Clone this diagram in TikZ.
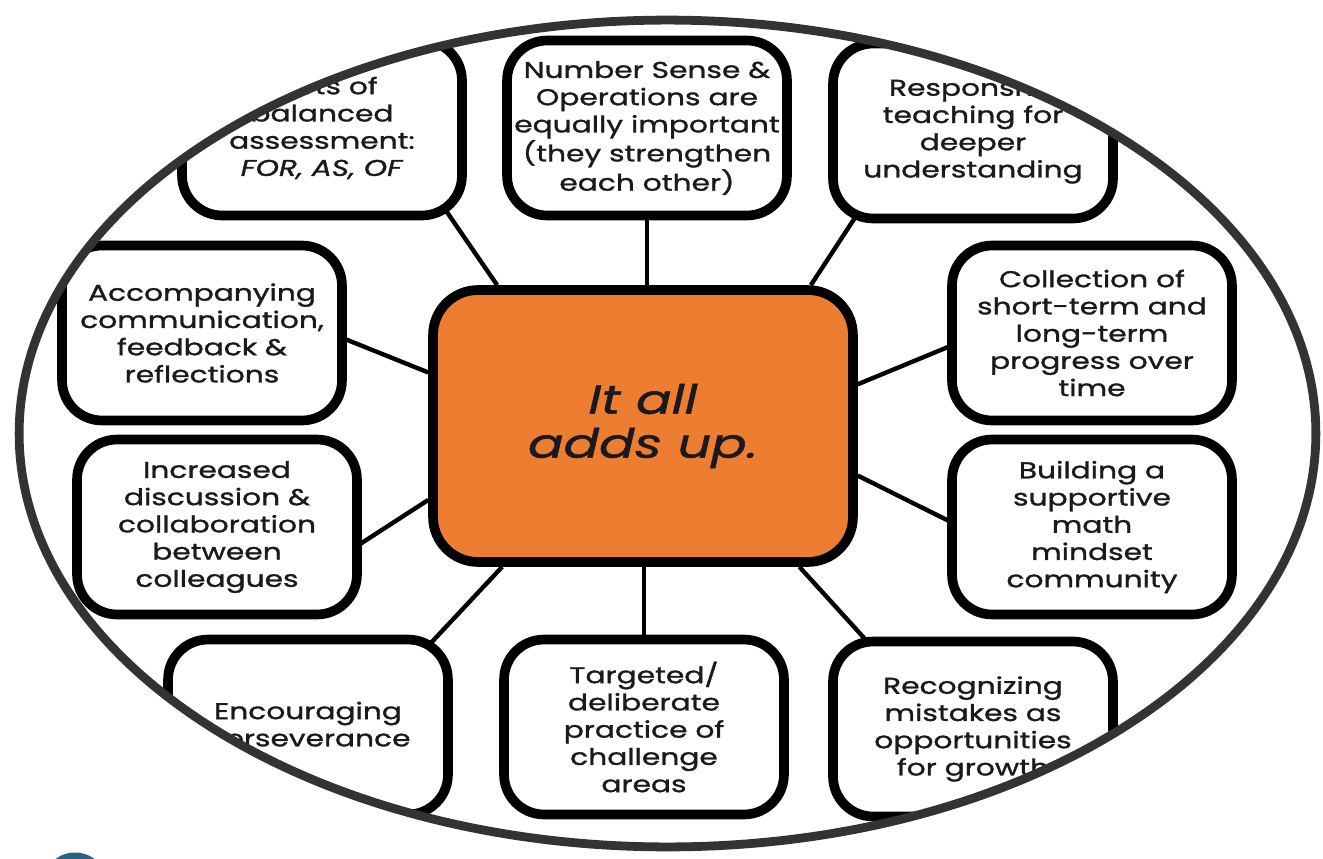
\documentclass[tikz,border=0pt]{standalone}
\usepackage{fontspec}
\setmainfont{Poppins}[FakeStretch=1.3, FakeBold=1.2]
\usetikzlibrary{calc, backgrounds}
\definecolor{ringgrey}{RGB}{51,51,51}
\definecolor{hubfill}{RGB}{237,125,49}
\definecolor{dotblue}{RGB}{46,96,133}
\definecolor{inkdark}{RGB}{25,25,30}

\begin{document}
\begin{tikzpicture}[
    x=0.02cm, y=-0.02cm,
    idea/.style={draw=black, fill=white, line width=5.5pt, rounded corners=0.8cm,
      minimum width=5.6cm, minimum height=3.5cm, align=center, inner sep=2pt,
      text=inkdark, font=\fontsize{13}{15.5}\selectfont},
    hub/.style={draw=black, fill=hubfill, line width=5.5pt, rounded corners=0.9cm,
      minimum width=8.4cm, minimum height=5.44cm, align=center,
      text=inkdark, font=\fontsize{23}{25}\selectfont\itshape},
    spoke/.style={line width=2.5pt, draw=black}
]
    \useasboundingbox (0,0) rectangle (1323,859);
    \begin{scope}
        \clip (667.5,433.5) ellipse [x radius=12.97cm, y radius=8.27cm];
        \node[hub] (c) at (643,426) {It all\\adds up.};

        % top row
        \node[idea] (tl) at (322,128) {Parts of\\balanced\\assessment:\\\textit{FOR, AS, OF}};
        \node[idea] (tm) at (647,128) {Number Sense \&\\Operations are\\equally important\\(they strengthen\\each other)};
        \node[idea] (tr) at (973,131) {Responsive\\teaching for\\deeper\\understanding};

        % left and right columns
        \node[idea] (ml1) at (202,333) {Accompanying\\communication,\\feedback \&\\reflections};
        \node[idea] (ml2) at (217,527) {Increased\\discussion \&\\collaboration\\between\\colleagues};
        \node[idea] (mr1) at (1092,333) {Collection of\\short-term and\\long-term\\progress over\\time};
        \node[idea] (mr2) at (1092,527) {Building a\\supportive\\math\\mindset\\community};

        % bottom row
        \node[idea] (bl) at (308,727) {Encouraging\\perseverance};
        \node[idea] (bm) at (644,727) {Targeted/\\deliberate\\practice of\\challenge\\areas};
        \node[idea] (br) at (973,729) {Recognizing\\mistakes as\\opportunities\\for growth};

        \begin{pgfonlayer}{background}
            \draw[spoke] (c.136) -- ($(tl.center)+(105,55)$);
            \draw[spoke] (tm.south) -- (tm.south |- c.north);
            \draw[spoke] (c.40) -- ($(tr.center)+(-96,53)$);
            \draw[spoke] (c.166) -- ($(ml1.center)+(128,0)$);
            \draw[spoke] (c.-161) -- ($(ml2.center)+(123,30)$);
            \draw[spoke] (c.11) -- ($(mr1.center)+(-127,7)$);
            \draw[spoke] (c.-13) -- ($(mr2.center)+(-127,2)$);
            \draw[spoke] (c.-135) -- ($(bl.center)+(92,-51)$);
            \draw[spoke] (bm.north) -- (bm.north |- c.south);
            \draw[spoke] (c.-42) -- ($(br.center)+(-78,-57)$);
        \end{pgfonlayer}
    \end{scope}

    % frame ring and corner dot
    \draw[ringgrey, line width=5pt] (667.5,433.5) ellipse [x radius=12.97cm, y radius=8.27cm];
    \fill[dotblue] (75,885) circle [radius=0.65cm];
\end{tikzpicture}
\end{document}
